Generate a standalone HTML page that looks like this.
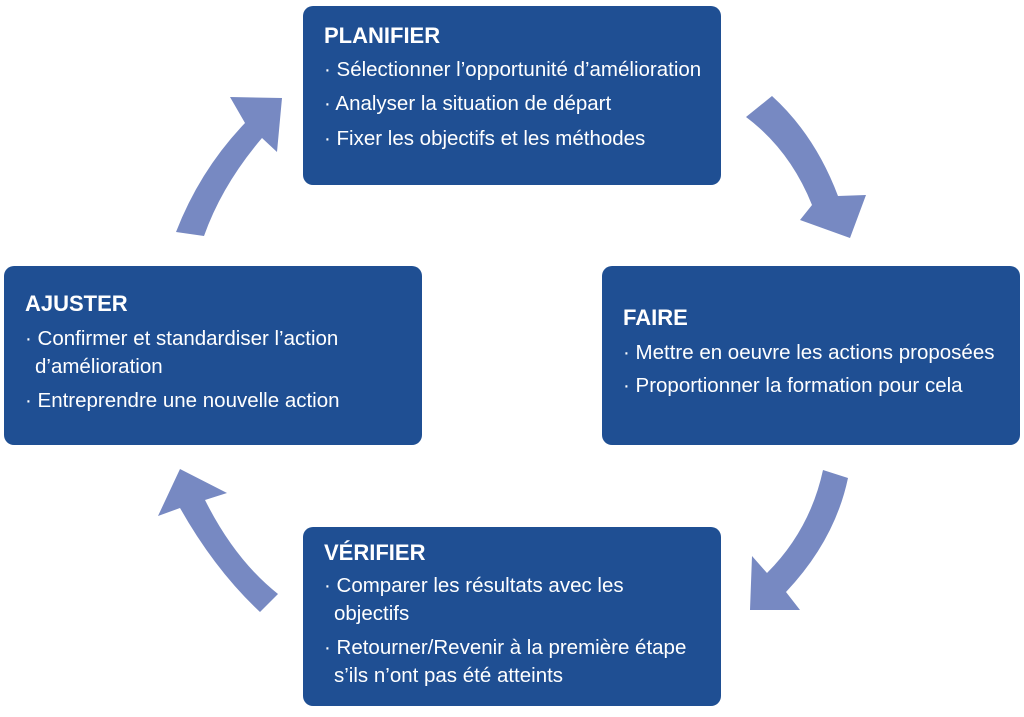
<!DOCTYPE html>
<html><head><meta charset="utf-8"><style>
body{margin:0;width:1024px;height:717px;background:#fff;position:relative;overflow:hidden;font-family:"Liberation Sans",sans-serif;}
.b{position:absolute;background:#1f4f93;border-radius:10px;color:#fff;box-sizing:border-box;}
.b h{display:block;font-weight:bold;font-size:22px;position:absolute;}
.b p{margin:0;position:absolute;font-size:20.5px;line-height:28px;white-space:nowrap;letter-spacing:0;}
svg{position:absolute;left:0;top:0;}
</style></head><body>
<svg width="1024" height="717">
<g fill="#7789c2">
<path d="M176,232 Q 200,170 245,123 L 230,97 L 282,98 L 277,152 L 262,138 Q 222,185 204,236 Z"/>
<path d="M746,117 Q 790,150 812,205 L 800,220 L 850,238 L 866,195 L 838,196 Q 815,135 772,96 Z"/>
<path d="M823,470 Q 810,530 767,573 L 752,556 L 750,610 L 800,610 L 786,592 Q 835,540 848,478 Z"/>
<path d="M260,612 Q 215,570 180,508 L 158,516 L 180,469 L 227,493 L 205,500 Q 235,560 278,594 Z"/>
</g></svg>
<div class="b" style="left:303px;top:6px;width:418px;height:179px">
<h style="left:21px;top:17px">PLANIFIER</h>
<p style="left:21px;top:50px">· Sélectionner l’opportunité d’amélioration</p>
<p style="left:21px;top:84px">· Analyser la situation de départ</p>
<p style="left:21px;top:119px">· Fixer les objectifs et les méthodes</p>
</div>
<div class="b" style="left:602px;top:266px;width:418px;height:179px">
<h style="left:21px;top:39px">FAIRE</h>
<p style="left:21px;top:73px">· Mettre en oeuvre les actions proposées</p>
<p style="left:21px;top:106px">· Proportionner la formation pour cela</p>
</div>
<div class="b" style="left:4px;top:266px;width:418px;height:179px">
<h style="left:21px;top:25px">AJUSTER</h>
<p style="left:21px;top:59px">· Confirmer et standardiser l’action</p>
<p style="left:31px;top:87px">d’amélioration</p>
<p style="left:21px;top:121px">· Entreprendre une nouvelle action</p>
</div>
<div class="b" style="left:303px;top:527px;width:418px;height:179px">
<h style="left:21px;top:13px">VÉRIFIER</h>
<p style="left:21px;top:45px">· Comparer les résultats avec les</p>
<p style="left:31px;top:73px">objectifs</p>
<p style="left:21px;top:107px">· Retourner/Revenir à la première étape</p>
<p style="left:31px;top:135px">s’ils n’ont pas été atteints</p>
</div>
</body></html>
